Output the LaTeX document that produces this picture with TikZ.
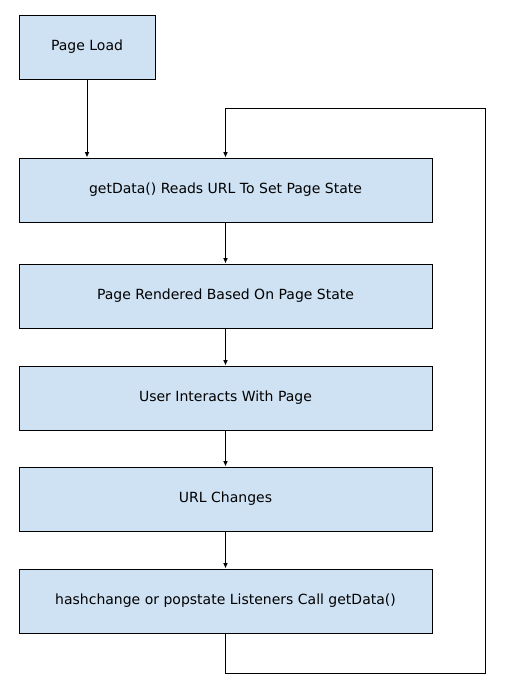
\documentclass[tikz,border=0pt]{standalone}
\usepackage{fontspec}
\setmainfont{DejaVu Sans}
\usetikzlibrary{arrows.meta}
\definecolor{boxblue}{HTML}{CFE2F3}
\tikzset{
	stepbox/.style={draw, fill=boxblue, line width=0.75pt, minimum width=413*0.75pt, minimum height=64*0.75pt, inner sep=0pt, font=\fontsize{10.5}{12}\selectfont},
	flow/.style={-{Latex[length=4pt,width=3.5pt]}, line width=0.75pt}
}
\begin{document}
\begin{tikzpicture}[x=0.75pt, y=-0.75pt]
		\useasboundingbox (0,0) rectangle (511,690);
		\node[stepbox, minimum width=136*0.75pt] (pageload) at (87,47) {Page Load};
		\node[stepbox] (getdata) at (225.5,190) {getData() Reads URL To Set Page State};
		\node[stepbox] (rendered) at (225.5,296) {Page Rendered Based On Page State};
		\node[stepbox] (interacts) at (225.5,398) {User Interacts With Page};
		\node[stepbox] (urlchanges) at (225.5,499) {URL Changes};
		\node[stepbox] (listeners) at (225.5,601) {hashchange or popstate Listeners Call getData()};
		
		\coordinate (loopbottom) at (485,673);
		\coordinate (looptop) at (485,108);
		
		\draw[flow] (pageload.south) -- (pageload.south |- getdata.north);
		\draw[flow] (getdata) -- (rendered);
		\draw[flow] (rendered) -- (interacts);
		\draw[flow] (interacts) -- (urlchanges);
		\draw[flow] (urlchanges) -- (listeners);
		\draw[flow] (listeners.south) |- (loopbottom) -- (looptop) -| (getdata.north);
	\end{tikzpicture}
\end{document}
